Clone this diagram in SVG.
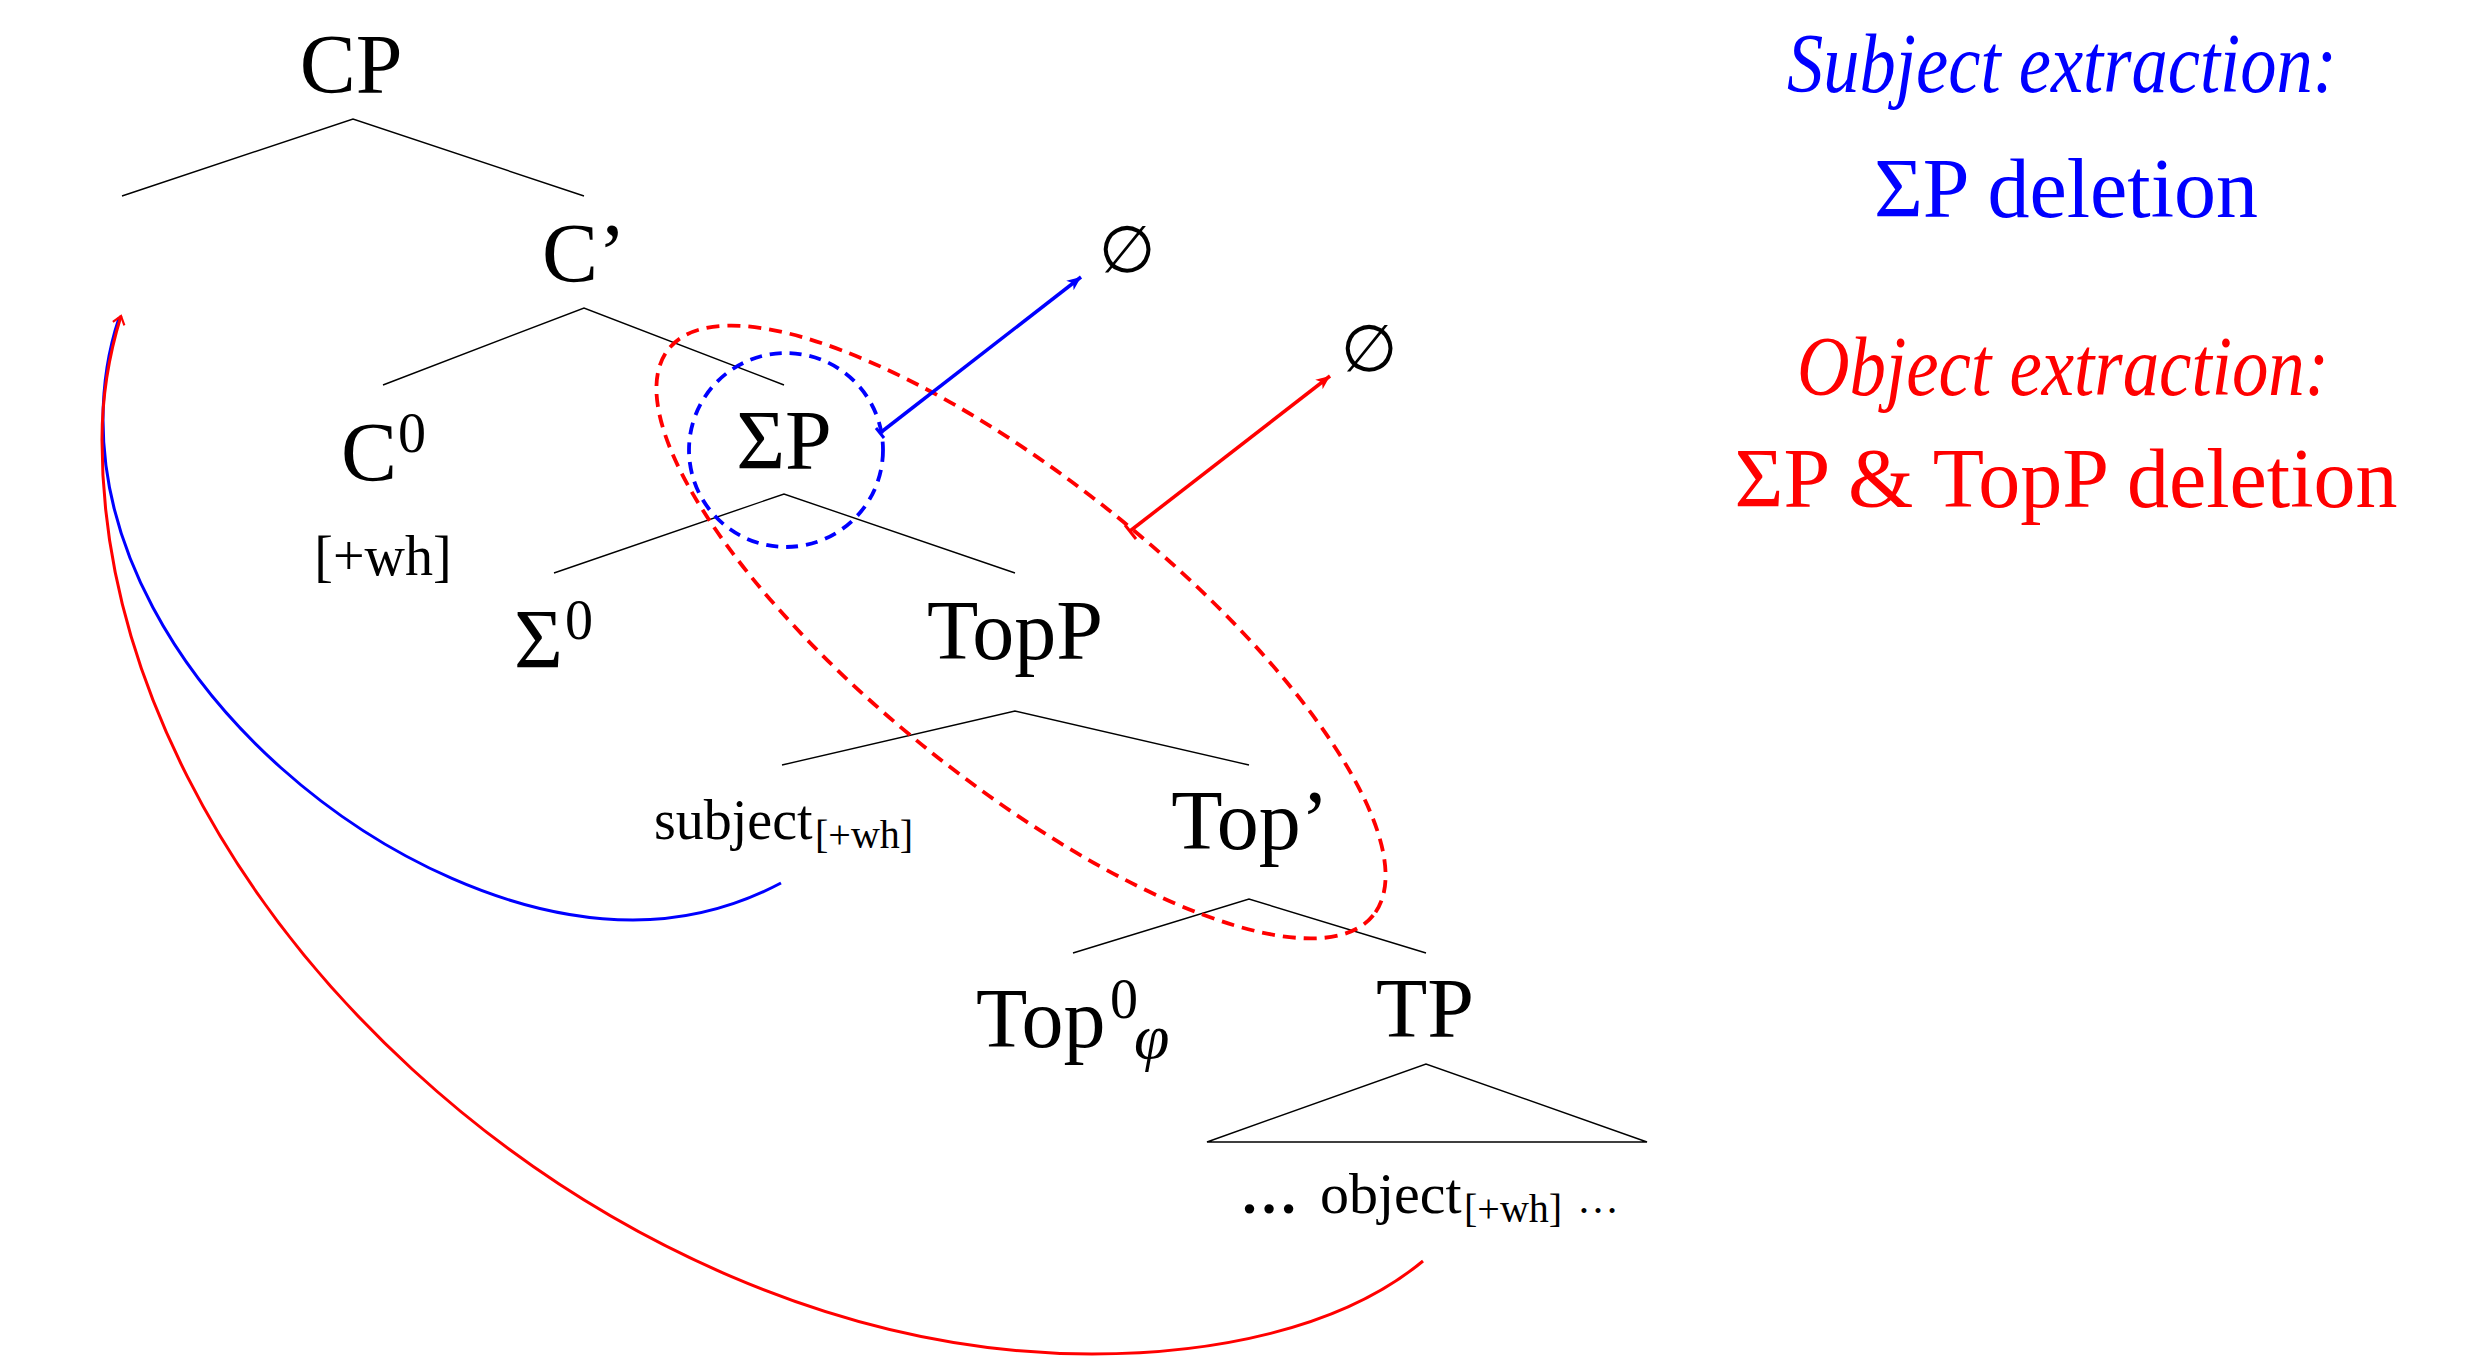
<svg xmlns="http://www.w3.org/2000/svg" width="2482" height="1358" viewBox="0 0 2482 1358">
<style>
.n{font-family:"Liberation Serif","Times New Roman",serif;fill:#000;font-size:84px}
.sup{font-size:56px}
.sub{font-size:40px}
.small{font-size:56px}
.obj{font-size:58px}
.tl{stroke:#000;stroke-width:1.4;fill:none}
.leg{font-family:"Liberation Serif","Times New Roman",serif;font-size:84px;text-anchor:middle}
.blue{fill:#0000ff}
.red{fill:#ff0000}
.empty{font-family:"DejaVu Sans",sans-serif;font-size:65px;text-anchor:middle}
</style>
<defs>
<marker id="ahB" markerWidth="20" markerHeight="16" refX="14" refY="6" orient="auto" markerUnits="userSpaceOnUse" viewBox="0 0 20 12">
<path d="M0,0 L14,6 L0,12 L4,6 Z" fill="#0000ff"/>
</marker>
<marker id="ahR" markerWidth="20" markerHeight="16" refX="14" refY="6" orient="auto" markerUnits="userSpaceOnUse" viewBox="0 0 20 12">
<path d="M0,0 L14,6 L0,12 L4,6 Z" fill="#ff0000"/>
</marker>
<marker id="openR" markerWidth="14" markerHeight="14" refX="10" refY="7" orient="auto" markerUnits="userSpaceOnUse" viewBox="0 0 14 14">
<path d="M2,1 L10,7 L2,13" fill="none" stroke="#ff0000" stroke-width="2.2"/>
</marker>
</defs>
<rect width="2482" height="1358" fill="#fff"/>

<g id="edges-tree">
<polyline class="tl" points="122,196 353,119 584,196"/>
<polyline class="tl" points="383,385 584,308 784,385"/>
<polyline class="tl" points="554,573 784,494 1015,573"/>
<polyline class="tl" points="782,765 1015,711 1249,765"/>
<polyline class="tl" points="1073,953 1249,899 1426,953"/>
<polygon class="tl" points="1207,1142 1426,1064 1647,1142"/>
</g>

<g id="node-CP"><text class="n" x="351" y="93" text-anchor="middle">CP</text></g>
<g id="node-Cbar"><text class="n" x="584" y="282" text-anchor="middle">C’</text></g>
<g id="node-C0"><text class="n" x="341" y="481">C<tspan class="sup" x="398" y="452">0</tspan></text>
<text class="n small" x="383" y="575" text-anchor="middle">[+wh]</text></g>
<g id="node-SigmaP"><text class="n" x="784" y="469" text-anchor="middle">ΣP</text></g>
<g id="node-Sigma0"><text class="n" x="514" y="668">Σ<tspan class="sup" x="565" y="639">0</tspan></text></g>
<g id="node-TopP"><text class="n" x="1015" y="659" text-anchor="middle">TopP</text></g>
<g id="node-subject"><text class="n small" x="654" y="839">subject<tspan class="sub" x="815" y="848">[+wh]</tspan></text></g>
<g id="node-Topbar"><text class="n" x="1250" y="849" text-anchor="middle">Top’</text></g>
<g id="node-Top0"><text class="n" x="976" y="1047">Top<tspan class="sup" x="1110" y="1018">0</tspan><tspan x="1134" y="1058" style="font-size:64px;font-style:italic">φ</tspan></text></g>
<g id="node-TP"><text class="n" x="1425" y="1037" text-anchor="middle">TP</text></g>
<g id="node-object"><text class="n obj" x="1240" y="1213"><tspan font-weight="bold">…</tspan><tspan x="1320">object</tspan><tspan class="sub" x="1464" y="1222">[+wh]</tspan><tspan x="1577" y="1213" style="font-size:42px">…</tspan></text></g>

<g id="node-empty-blue"><text class="empty" x="1127" y="272">∅</text></g>
<g id="node-empty-red"><text class="empty" x="1369" y="371">∅</text></g>

<g id="legend">
<text class="leg blue" x="2062" y="92" font-style="italic" textLength="550" lengthAdjust="spacingAndGlyphs">Subject extraction:</text>
<text class="leg blue" x="2066" y="217">ΣP deletion</text>
<text class="leg red" x="2063" y="395" font-style="italic" textLength="532" lengthAdjust="spacingAndGlyphs">Object extraction:</text>
<text class="leg red" x="2066" y="507">ΣP &amp; TopP deletion</text>
</g>

<g id="connectors">
<circle cx="786" cy="450" r="97" fill="none" stroke="#0000ff" stroke-width="3.8" stroke-dasharray="12 8"/>
<ellipse cx="1021" cy="632" rx="452" ry="150" transform="rotate(38.8 1021 632)" fill="none" stroke="#ff0000" stroke-width="3.8" stroke-dasharray="13 8"/>
<line x1="880" y1="433" x2="1081" y2="277" stroke="#0000ff" stroke-width="3.5" marker-end="url(#ahB)"/>
<line x1="1130" y1="531" x2="1330" y2="376" stroke="#ff0000" stroke-width="3.5" marker-end="url(#ahR)"/>
<line x1="1125" y1="525" x2="1136" y2="539" stroke="#ff0000" stroke-width="3"/>
<line x1="876" y1="428" x2="884" y2="438" stroke="#0000ff" stroke-width="3"/>
<path d="M781,883 C730,910 680,920 633,920 C400,920 103,680 103,420 C103,380 110,345 119,318" fill="none" stroke="#0000ff" stroke-width="3"/>
<path d="M1423,1261 C1340,1330 1210,1354 1092,1354 C600,1354 102,900 102,440 C102,390 112,345 121,316" fill="none" stroke="#ff0000" stroke-width="3" marker-end="url(#openR)"/>
</g>
</svg>
